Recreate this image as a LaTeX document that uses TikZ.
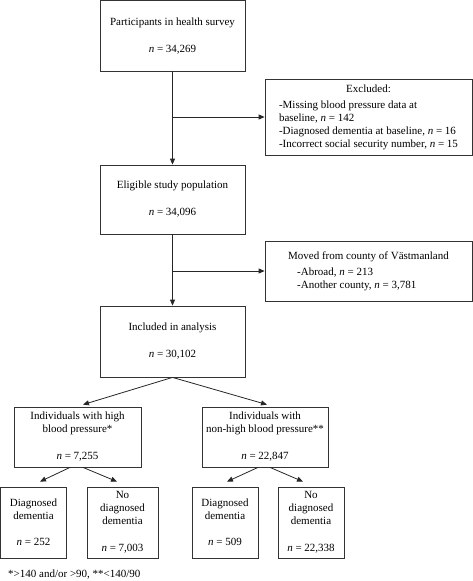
\documentclass[tikz,border=0pt]{standalone}
\usepackage{fontspec}
\setmainfont{Liberation Serif}
\usetikzlibrary{arrows.meta}
\begin{document}
\begin{tikzpicture}[x=1pt,y=-1pt,
  font=\fontsize{11}{13}\selectfont,
  box/.style={draw=black!80, line width=0.8pt, align=center, inner sep=0pt},
  arr/.style={draw=black!85, line width=0.8pt, -{Triangle[length=6pt,width=5pt]}},
  ln/.style={draw=black!85, line width=0.8pt}]
\useasboundingbox (0,0) rectangle (473,581);
\node[box, minimum width=145pt, minimum height=70.5pt] (p) at (172.5,35.75)
  {Participants in health survey\\[14pt]\textit{n} = 34,269};
\node[box, minimum width=207pt, minimum height=76pt] (ex) at (368.5,117)
  {\begin{tabular}{@{}l@{}}\multicolumn{1}{c}{Excluded:}\\[3pt]
  -Missing blood pressure data at\\
  baseline, \textit{n} = 142\\
  -Diagnosed dementia at baseline, \textit{n} = 16\\
  -Incorrect social security number, \textit{n} = 15\end{tabular}};
\node[box, minimum width=145pt, minimum height=69pt] (e) at (172.5,199.5)
  {Eligible study population\\[14pt]\textit{n} = 34,096};
\node[box, minimum width=207pt, minimum height=60pt] (mv) at (368.5,271)
  {\begin{tabular}{@{}l@{}}Moved from county of Västmanland\\[3pt]
  \hspace*{9pt}-Abroad, \textit{n} = 213\\
  \hspace*{9pt}-Another county, \textit{n} = 3,781\end{tabular}};
\node[box, minimum width=145pt, minimum height=71pt] (inc) at (172.5,341.5)
  {Included in analysis\\[14pt]\textit{n} = 30,102};
\node[box, minimum width=127pt, minimum height=60pt] (hi) at (77.5,437)
  {Individuals with high\\blood pressure*\\[14pt]\textit{n} = 7,255};
\node[box, minimum width=126pt, minimum height=60pt] (nh) at (265,437)
  {Individuals with\\non-high blood pressure**\\[14pt]\textit{n} = 22,847};
\node[box, minimum width=66pt, minimum height=71pt] (a) at (33.5,522.5)
  {Diagnosed\\dementia\\[13pt]\textit{n} = 252};
\node[box, minimum width=71pt, minimum height=71pt] (b) at (122.5,522.5)
  {No\\diagnosed\\dementia\\[14pt]\textit{n} = 7,003};
\node[box, minimum width=66pt, minimum height=71pt] (c) at (225,522.5)
  {Diagnosed\\dementia\\[13pt]\textit{n} = 509};
\node[box, minimum width=66pt, minimum height=71pt] (d) at (311,522.5)
  {No\\diagnosed\\dementia\\[14pt]\textit{n} = 22,338};
\node[anchor=west, inner sep=0pt] (fn) at (8,575) {*>140 and/or >90, **<140/90};
% connectors
\draw[arr] (p.south) -- (e.north);
\draw[arr] (ex.west -| p.south) -- (ex.west);
\draw[arr] (e.south) -- (inc.north);
\draw[arr] (mv.west -| e.south) -- (mv.west);
\draw[arr] (inc.south) -- ([xshift=5.5pt,yshift=2pt]hi.north);
\draw[arr] (inc.south) -- ([xshift=2pt,yshift=2pt]nh.north);
\draw[arr] ([xshift=-7.5pt]hi.south) -- ([xshift=6.5pt,yshift=5pt]a.north);
\draw[arr] ([xshift=5.5pt]hi.south) -- ([xshift=-5.5pt,yshift=5pt]b.north);
\draw[arr] ([xshift=-7pt]nh.south) -- ([xshift=2pt,yshift=5pt]c.north);
\draw[arr] ([xshift=5pt]nh.south) -- ([xshift=-8pt,yshift=5pt]d.north);
\end{tikzpicture}
\end{document}
